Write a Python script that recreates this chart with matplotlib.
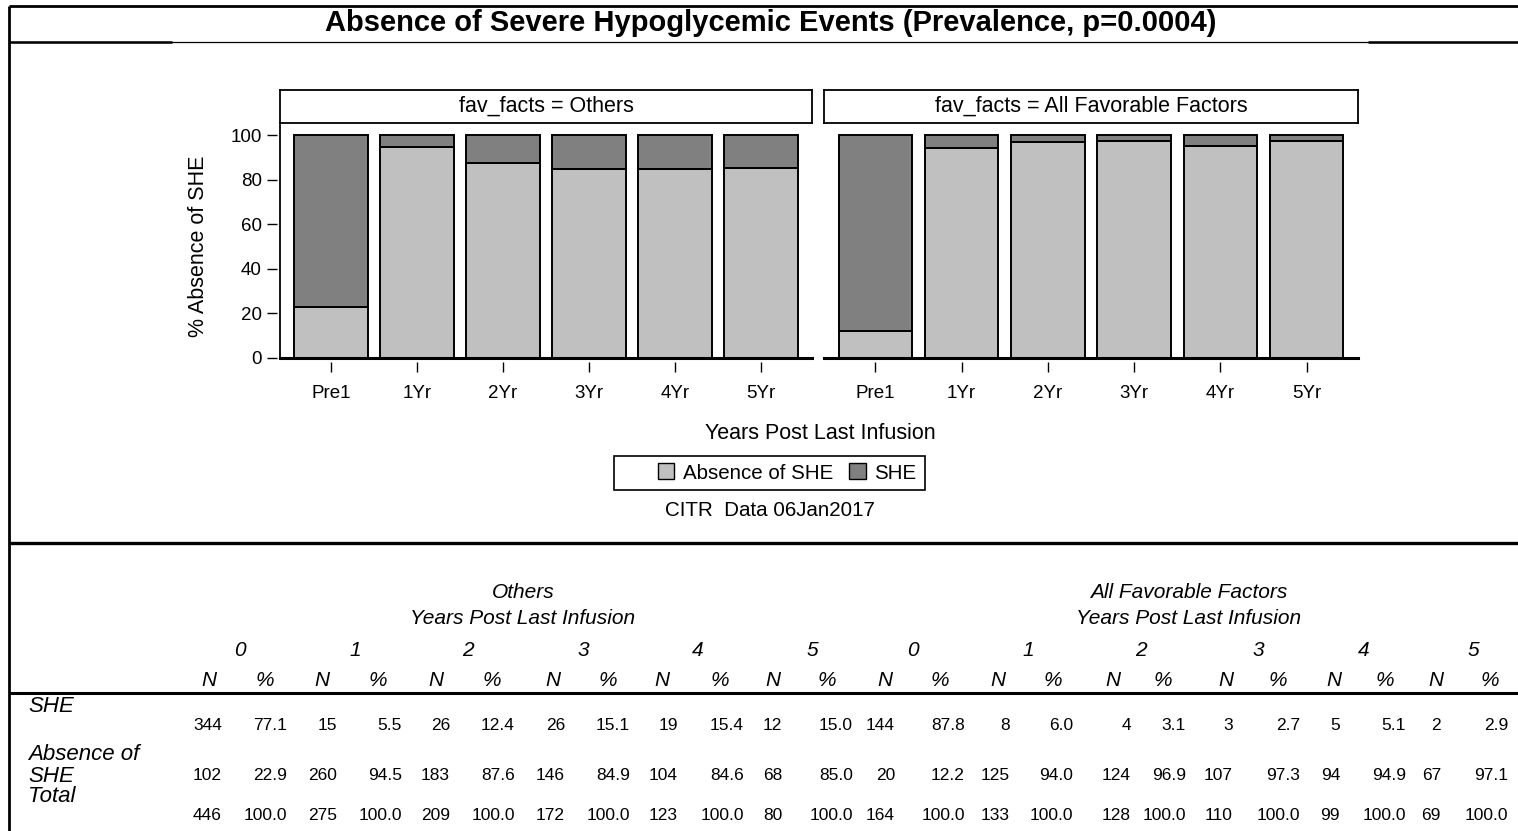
#!/usr/bin/env python3
"""Absence of SHE - prevalence bar panels with summary table"""

import numpy as np
import matplotlib
matplotlib.use('Agg')
import matplotlib.pyplot as plt
from matplotlib.patches import Patch, Rectangle
from matplotlib.lines import Line2D

plt.rcParams['font.family'] = ['Liberation Sans', 'DejaVu Sans']

# Data
years = ['Pre1', '1Yr', '2Yr', '3Yr', '4Yr', '5Yr']
year_nums = ['0', '1', '2', '3', '4', '5']
groups = ['Others', 'All Favorable Factors']

others_she_n = [344, 15, 26, 26, 19, 12]
others_abs_n = [102, 260, 183, 146, 104, 68]
others_tot_n = [446, 275, 209, 172, 123, 80]
others_she_pct = [77.1, 5.5, 12.4, 15.1, 15.4, 15.0]
others_abs_pct = [22.9, 94.5, 87.6, 84.9, 84.6, 85.0]

fav_she_n = [144, 8, 4, 3, 5, 2]
fav_abs_n = [20, 125, 124, 107, 94, 67]
fav_tot_n = [164, 133, 128, 110, 99, 69]
fav_she_pct = [87.8, 6.0, 3.1, 2.7, 5.1, 2.9]
fav_abs_pct = [12.2, 94.0, 96.9, 97.3, 94.9, 97.1]

LIGHT = '#C0C0C0'
DARK = '#808080'

W, H = 1518, 831


def fx(px):
    return px / W


def fy(py):
    return 1 - py / H


def add_px_axes(fig, x0, y0, x1, y1):
    return fig.add_axes([fx(x0), fy(y1), (x1 - x0) / W, (y1 - y0) / H])


def hline(fig, xa, xb, y, lw):
    fig.add_artist(Line2D([fx(xa), fx(xb)], [fy(y), fy(y)], transform=fig.transFigure,
                          color='black', lw=lw, solid_capstyle='butt'))


def vline(fig, x, ya, yb, lw):
    fig.add_artist(Line2D([fx(x), fx(x)], [fy(ya), fy(yb)], transform=fig.transFigure,
                          color='black', lw=lw, solid_capstyle='butt'))


fig = plt.figure(figsize=(W / 100, H / 100), dpi=100)

# frame + title
hline(fig, 9, W, 6, 2.0)
vline(fig, 9, 6, H, 2.0)
hline(fig, 9, W, 42, 0.9)
hline(fig, 9, 172, 42, 1.8)
hline(fig, 1368, W, 42, 1.8)
fig.text(fx(771), fy(23), 'Absence of Severe Hypoglycemic Events (Prevalence, p=0.0004)',
         ha='center', va='center', fontsize=21, fontweight='bold')

# Bar panels
x = np.arange(len(years))
panels = [
    (280, 812, groups[0], others_abs_pct, others_she_pct, True),
    (824, 1358, groups[1], fav_abs_pct, fav_she_pct, False),
]
for x0, x1, name, absp, shep, first in panels:
    ax = add_px_axes(fig, x0, 125, x1, 358)
    ax.bar(x, absp, width=0.85, color=LIGHT, edgecolor='black', linewidth=1.4)
    ax.bar(x, shep, bottom=absp, width=0.85, color=DARK, edgecolor='black', linewidth=1.4)
    ax.set_xlim(-0.593, 5.593)
    ax.set_ylim(0, 104.5)
    for s in ['top', 'right', 'bottom', 'left']:
        ax.spines[s].set_visible(False)
    ax.spines['bottom'].set_position(('outward', 3))
    ax.axhline(0, color='black', lw=2.2, clip_on=False)
    ax.set_xticks(x, years)
    ax.tick_params(axis='x', length=7.5, width=1, pad=9, labelsize=13.5)
    if first:
        ax.spines['left'].set_position(('outward', 2))
        ax.add_line(Line2D([0, 0], [0, 1], transform=ax.transAxes, color='black', lw=1.3, clip_on=False))
        ax.set_yticks([0, 20, 40, 60, 80, 100])
        ax.tick_params(axis='y', length=7, width=1, pad=4, labelsize=13.5)
    else:
        ax.set_yticks([])

    strip = add_px_axes(fig, x0, 90, x1, 123)
    strip.set_xticks([])
    strip.set_yticks([])
    for s in strip.spines.values():
        s.set_linewidth(1.3)
    strip.text(0.5, 0.5, 'fav_facts = ' + name, ha='center', va='center', fontsize=15.5,
               transform=strip.transAxes)

fig.text(fx(199), fy(246), '% Absence of SHE', rotation=90, ha='center', va='center', fontsize=15.5)
fig.text(fx(820), fy(433), 'Years Post Last Infusion', ha='center', va='center', fontsize=15.5)

# legend
fig.add_artist(Rectangle((fx(614), fy(490)), (925 - 614) / W, (490 - 456) / H,
                         transform=fig.transFigure, fill=False, edgecolor='black', lw=1.2))
handles = [Patch(facecolor=LIGHT, edgecolor='black', label='Absence of SHE'),
           Patch(facecolor=DARK, edgecolor='black', label='SHE')]
fig.legend(handles=handles, loc='center', bbox_to_anchor=(fx(787), fy(473)), ncol=2,
           frameon=False, fontsize=14.8, handlelength=0.8, handleheight=0.8,
           handletextpad=0.4, columnspacing=0.8, borderpad=0)
fig.text(fx(770), fy(511), 'CITR  Data 06Jan2017', ha='center', va='center', fontsize=14.8)

# separator
hline(fig, 9, W, 543, 2.4)

# Table
year_x = [240, 355, 468, 583, 698, 812, 913, 1028, 1141, 1258, 1364, 1473]
n_hdr_x = [209, 322, 436, 553, 662, 773, 885, 998, 1113, 1226, 1334, 1436]
p_hdr_x = [265, 378, 492, 608, 720, 827, 940, 1053, 1163, 1278, 1385, 1490]
n_right = [222, 337, 450, 565, 678, 782, 895, 1010, 1131, 1233, 1340, 1441]
p_right = [287, 402, 515, 630, 744, 853, 965, 1073, 1186, 1300, 1406, 1508]

she_n = others_she_n + fav_she_n
abs_n = others_abs_n + fav_abs_n
tot_n = others_tot_n + fav_tot_n
she_pct = others_she_pct + fav_she_pct
abs_pct = others_abs_pct + fav_abs_pct

HDR = 15
VAL = 12.5
for gx, name in zip([523, 1189], groups):
    fig.text(fx(gx), fy(593), name, ha='center', va='center', fontsize=HDR, style='italic')
    fig.text(fx(gx), fy(619), 'Years Post Last Infusion', ha='center', va='center', fontsize=HDR, style='italic')

for i in range(12):
    fig.text(fx(year_x[i]), fy(651), year_nums[i % 6], ha='center', va='center', fontsize=HDR, style='italic')
    fig.text(fx(n_hdr_x[i]), fy(680), 'N', ha='center', va='center', fontsize=HDR, style='italic')
    fig.text(fx(p_hdr_x[i]), fy(680), '%', ha='center', va='center', fontsize=HDR, style='italic')

hline(fig, 9, W, 693, 2.2)

row_vals = [(725, she_n, she_pct), (776, abs_n, abs_pct), (816, tot_n, [100.0] * 12)]
for ry, ns, ps in row_vals:
    for i in range(12):
        fig.text(fx(n_right[i]), fy(ry), str(ns[i]), ha='right', va='center', fontsize=VAL)
        fig.text(fx(p_right[i]), fy(ry), f'{ps[i]:.1f}', ha='right', va='center', fontsize=VAL)

for ly, lab in [(707, 'SHE'), (755, 'Absence of'), (776, 'SHE'), (797, 'Total')]:
    fig.text(fx(28), fy(ly), lab, ha='left', va='center', fontsize=16, style='italic')

fig.savefig('out.png', dpi=100)
print("done: out.png")
